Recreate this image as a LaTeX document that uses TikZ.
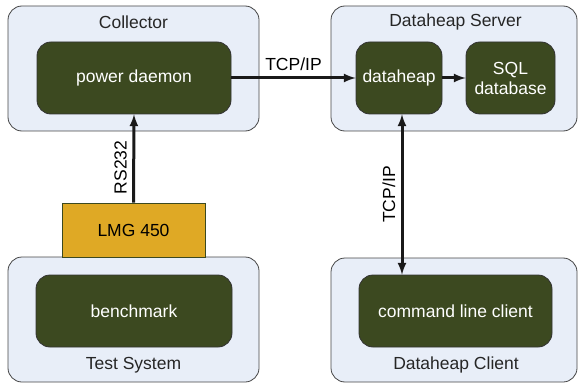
\documentclass[tikz,border=0pt]{standalone}
\usepackage{fontspec}
\setmainfont{Liberation Sans}
\usetikzlibrary{positioning,arrows}
\definecolor{boxblue}{RGB}{232,238,248}
\definecolor{boxedge}{RGB}{70,70,70}
\definecolor{daemongreen}{RGB}{60,73,32}
\definecolor{metergold}{RGB}{223,169,37}
\tikzset{
>=latex,
  hostbox/.style={
    rectangle,
    rounded corners=14pt,
    draw=boxedge, thick,
    fill=boxblue},
  procbox/.style={
    rectangle,
    rounded corners=14pt,
    draw=black!80, thick,
    fill=daemongreen,
    text=white,
    align=center,
    minimum height=72pt},
  meterbox/.style={
    rectangle,
    draw=daemongreen, thick,
    fill=metergold,
    minimum width=143pt,
    minimum height=54pt},
  link/.style={draw=black!90, line width=3pt},
  hostlabel/.style={text=black!85},
}

\begin{document}
\begin{tikzpicture}
  [x=1pt,y=-1pt,
  font=\fontsize{17.5}{20}\selectfont]
     \useasboundingbox (0,0) rectangle (578,385);
     \node[hostbox,minimum width=251pt,minimum height=125pt] (collector) at (133.5,68.5) {};
     \node[hostbox,minimum width=246pt,minimum height=125pt] (server) at (454,68.5) {};
     \node[hostbox,minimum width=251pt,minimum height=125pt] (testsys) at (133.5,319.5) {};
     \node[hostbox,minimum width=246pt,minimum height=124pt] (client) at (454,320) {};
     \node[hostlabel] (collector-label) at (133.5,22) {Collector};
     \node[hostlabel] (server-label) at (455.5,22) {Dataheap Server};
     \node[hostlabel] (testsys-label) at (133.5,365) {Test System};
     \node[hostlabel] (client-label) at (456,365) {Dataheap Client};
     \node[procbox,minimum width=194pt] (power) at (134,78) {power daemon};
     \node[procbox,minimum width=86pt] (dataheap) at (399,78) {dataheap};
     \node[procbox,minimum width=89pt] (sql) at (510.5,78) {SQL\\database};
     \node[procbox,minimum width=196pt] (bench) at (134,311) {benchmark};
     \node[procbox,minimum width=193pt] (cmd) at (455.5,311) {command line client};
     \node[meterbox] (lmg) at (133.5,230) {LMG 450};
     \draw[link,->] (power.east) -- node[above=2pt] {TCP/IP} (dataheap.west);
     \draw[link,->] (dataheap.east) -- (sql.west);
     \draw[link,->] (lmg.north) -- node[pos=0.4,left=2pt,rotate=90,anchor=south] {RS232} (power.south);
     \draw[link,<->] ([xshift=3pt]dataheap.south) -- node[left=2pt,rotate=90,anchor=south] {TCP/IP} ([xshift=3pt]dataheap.south |- cmd.north);
  \end{tikzpicture}
\end{document}
